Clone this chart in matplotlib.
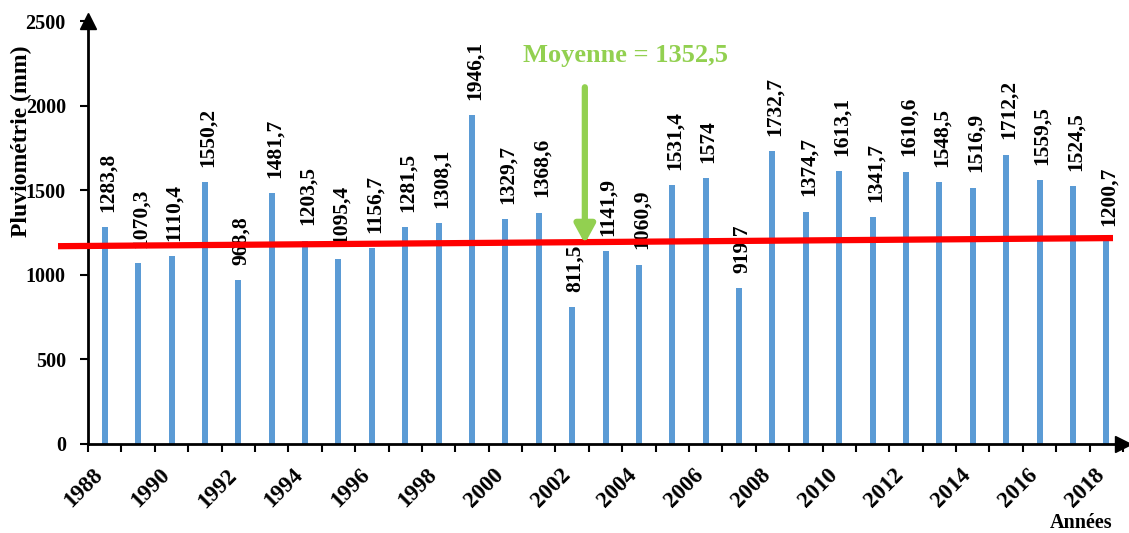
import matplotlib
matplotlib.use("Agg")
from matplotlib import pyplot as plt
import matplotlib.transforms as mtransforms
import numpy as np

plt.rcParams['font.family'] = ['Liberation Serif', 'DejaVu Serif']
plt.rcParams['font.weight'] = 'bold'

years = list(range(1988, 2019))
rain = [1283.8, 1070.3, 1110.4, 1550.2, 968.8, 1481.7, 1203.5, 1095.4, 1156.7,
        1281.5, 1308.1, 1946.1, 1329.7, 1368.6, 811.5, 1141.9, 1060.9, 1531.4,
        1574, 919.7, 1732.7, 1374.7, 1613.1, 1341.7, 1610.6, 1548.5, 1516.9,
        1712.2, 1559.5, 1524.5, 1200.7]
mean_label = "Moyenne = 1352,5"
trend_start = 1170
trend_end = 1218

bar_color = "#5B9BD5"
green = "#92D050"

fig = plt.figure(figsize=(11.29, 5.33), dpi=100)
ax = fig.add_axes([0.078, 0.167, 0.9167, 0.793])

x = np.arange(len(years))
ax.bar(x, rain, width=0.18, color=bar_color, zorder=2)

for xi, v in zip(x, rain):
    lab = ("%g" % v).replace(".", ",")
    ax.annotate(lab, (xi, v), xytext=(2, 11), textcoords="offset points",
                rotation=90, ha="center", va="bottom", fontsize=15.5,
                fontweight="bold", zorder=3)

ax.set_xlim(-0.5, len(years) - 0.5)
ax.set_ylim(0, 2500)
ax.set_yticks(np.arange(0, 2501, 500))
ax.tick_params(axis='y', labelsize=14.5, length=6, width=1.5, direction='out', pad=10)

# ticks between categories, labels every other year
ax.set_xticks(np.arange(-0.5, len(years), 1))
ax.set_xticklabels([])
ax.set_xticks(x[::2], minor=True)
ax.set_xticklabels([str(y) for y in years[::2]], minor=True, rotation=45,
                   ha="right", rotation_mode="anchor", fontsize=16.5)
ax.tick_params(axis='x', which='major', length=6, width=1.5, direction='out')
ax.tick_params(axis='x', which='minor', length=0, pad=15)
shift = mtransforms.ScaledTranslation(-9 / 72, 0, fig.dpi_scale_trans)
for t in ax.get_xticklabels(minor=True):
    t.set_transform(t.get_transform() + shift)

ax.spines['top'].set_visible(False)
ax.spines['right'].set_visible(False)
ax.spines['left'].set_linewidth(2)
ax.spines['bottom'].set_linewidth(2)
ax.plot(1, 0, ">k", markersize=11, transform=ax.transAxes, clip_on=False)
ax.plot(0, 1, "^k", markersize=11, transform=ax.transAxes, clip_on=False)

# hand drawn trend line, extends slightly past the axes
ax.plot([-1.4, 30.2], [trend_start, trend_end], color="red", lw=4.5,
        solid_capstyle="butt", clip_on=False, zorder=4)

# mean annotation
ax.annotate("", xy=(14.38, 1185), xytext=(14.38, 2110),
            arrowprops=dict(arrowstyle="-|>,head_width=0.6,head_length=1.1",
                            color=green, lw=4.5, shrinkA=0, shrinkB=0), zorder=5)
ax.text(15.6, 2300, mean_label, color=green, fontsize=19, fontweight="bold",
        ha="center", va="center")

fig.text(0.019, 0.735, "Pluviométrie (mm)", rotation=90, ha="center",
         va="center", fontsize=17, fontweight="bold")
fig.text(0.958, 0.0, "Années", ha="center", va="bottom", fontsize=14.5,
         fontweight="bold")

fig.savefig("out.png", dpi=100)
